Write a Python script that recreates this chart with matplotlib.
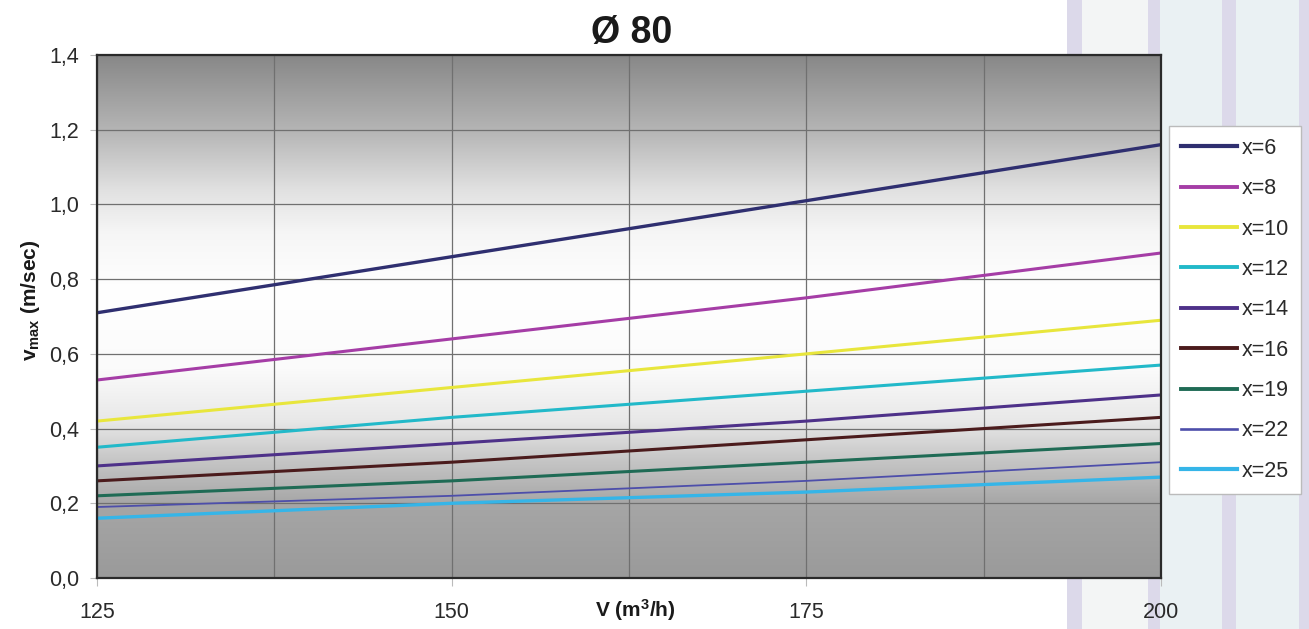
import numpy as np
import matplotlib
matplotlib.use("Agg")
import matplotlib.pyplot as plt
from matplotlib.colors import LinearSegmentedColormap
from matplotlib.patches import Rectangle
from matplotlib.lines import Line2D

plt.rcParams['font.family'] = ['Liberation Sans', 'DejaVu Sans']
plt.rcParams['mathtext.fontset'] = 'custom'
plt.rcParams['mathtext.rm'] = 'Liberation Sans'
plt.rcParams['mathtext.it'] = 'Liberation Sans:italic'
plt.rcParams['mathtext.bf'] = 'Liberation Sans:bold'

# ---- data ----
flow = [125, 150, 175, 200]
series_labels = ["x=6", "x=8", "x=10", "x=12", "x=14", "x=16", "x=19", "x=22", "x=25"]
v_x6 = [0.71, 0.86, 1.01, 1.16]
v_x8 = [0.53, 0.64, 0.75, 0.87]
v_x10 = [0.42, 0.51, 0.60, 0.69]
v_x12 = [0.35, 0.43, 0.50, 0.57]
v_x14 = [0.30, 0.36, 0.42, 0.49]
v_x16 = [0.26, 0.31, 0.37, 0.43]
v_x19 = [0.22, 0.26, 0.31, 0.36]
v_x22 = [0.19, 0.22, 0.26, 0.31]
v_x25 = [0.16, 0.20, 0.23, 0.27]
series = [v_x6, v_x8, v_x10, v_x12, v_x14, v_x16, v_x19, v_x22, v_x25]
colors = ["#2f2f70", "#a53da6", "#e8e63c", "#22b9c9", "#4e3189",
          "#4b1b1c", "#1f6b55", "#4d4eaa", "#35b5e8"]
widths = [2.4, 2.2, 2.2, 2.2, 2.2, 2.2, 2.2, 1.3, 2.4]
x_ticks = [125, 150, 175, 200]
y_ticks = [0.0, 0.2, 0.4, 0.6, 0.8, 1.0, 1.2, 1.4]

W, H = 1309, 629
fig = plt.figure(figsize=(W / 100, H / 100), dpi=100)
fig.patch.set_facecolor("white")

# page background on right side
def fx(px):
    return px / W
fig.patches.append(Rectangle((fx(1067), 0), fx(W - 1067), 1, transform=fig.transFigure,
                             facecolor="#eaf1f3", edgecolor="none", zorder=-10))
fig.patches.append(Rectangle((fx(1082), 0), fx(1148 - 1082), 1, transform=fig.transFigure,
                             facecolor="#f3f5f5", edgecolor="none", zorder=-9))
for x0, x1 in [(1067, 1082), (1148, 1160), (1222, 1236), (1299, 1309)]:
    fig.patches.append(Rectangle((fx(x0), 0), fx(x1 - x0), 1, transform=fig.transFigure,
                                 facecolor="#dcd9ea", edgecolor="none", zorder=-8))

ax = fig.add_axes([97 / W, 1 - 578 / H, (1161 - 97) / W, (578 - 55) / H])

# background gradient
stops = [(0.0, "#9a9a9a"), (0.14, "#a6a6a6"), (0.22, "#c4c4c4"), (0.30, "#e8e8e8"),
         (0.40, "#fbfbfb"), (0.55, "#ffffff"), (0.66, "#f6f6f6"), (0.74, "#e2e2e2"),
         (0.86, "#b4b4b4"), (1.0, "#888888")]
cmap = LinearSegmentedColormap.from_list("bg", stops)
grad = np.linspace(0, 1, 256).reshape(-1, 1)
ax.imshow(grad, aspect="auto", cmap=cmap, extent=[125, 200, 0, 1.4],
          origin="lower", zorder=0, interpolation="bilinear")

handles = []
for vals, lab, c, lw in zip(series, series_labels, colors, widths):
    ax.plot(flow, vals, color=c, lw=lw, zorder=3, solid_capstyle="butt")
    handles.append(Line2D([0], [0], color=c, lw=lw + 0.6))

ax.set_xlim(125, 200)
ax.set_ylim(0, 1.4)
ax.set_xticks(x_ticks)
ax.set_xticks([137.5, 162.5, 187.5], minor=True)
ax.set_xticklabels([str(t) for t in x_ticks])
ax.set_yticks(y_ticks)
ax.set_yticklabels([f"{t:.1f}".replace(".", ",") for t in y_ticks])
ax.grid(True, which="both", color="#707070", lw=0.9, zorder=1)
for gl in ax.get_xgridlines() + ax.get_ygridlines():
    gl.set_zorder(1)
ax.tick_params(axis="x", which="major", length=6, color="#bbbbbb", pad=11, labelsize=15.5, labelcolor="#2a2a2a")
ax.tick_params(axis="x", which="minor", length=0)
ax.tick_params(axis="y", length=5, color="#bbbbbb", pad=8, labelsize=15.5, labelcolor="#2a2a2a")
for s in ax.spines.values():
    s.set_color("#2a2a2a")
    s.set_linewidth(1.6)
    s.set_zorder(4)

fig.text(632 / W, 1 - 33 / H, "Ø 80", ha="center", va="center", fontsize=27,
         fontweight="bold", color="#1a1a1a")
fig.text(635 / W, 1 - 610 / H, "V (m$^\\mathbf{3}$/h)", ha="center", va="center",
         fontsize=15, fontweight="bold", color="#1a1a1a")
fig.text(31 / W, 1 - 300 / H, "v$_{\\mathbf{max}}$ (m/sec)", ha="center", va="center",
         rotation=90, fontsize=15, fontweight="bold", color="#1a1a1a")

leg = fig.legend(handles, series_labels, loc="upper left",
                 bbox_to_anchor=(1169 / W, 1 - 126 / H), frameon=True, fancybox=False,
                 edgecolor="#bbbbbb", facecolor="white", framealpha=1, fontsize=15.5,
                 handlelength=2.6, handletextpad=0.25, labelspacing=0.9,
                 borderpad=0.55, borderaxespad=0)
for t in leg.get_texts():
    t.set_color("#2a2a2a")

fig.savefig("out.png", dpi=100)
